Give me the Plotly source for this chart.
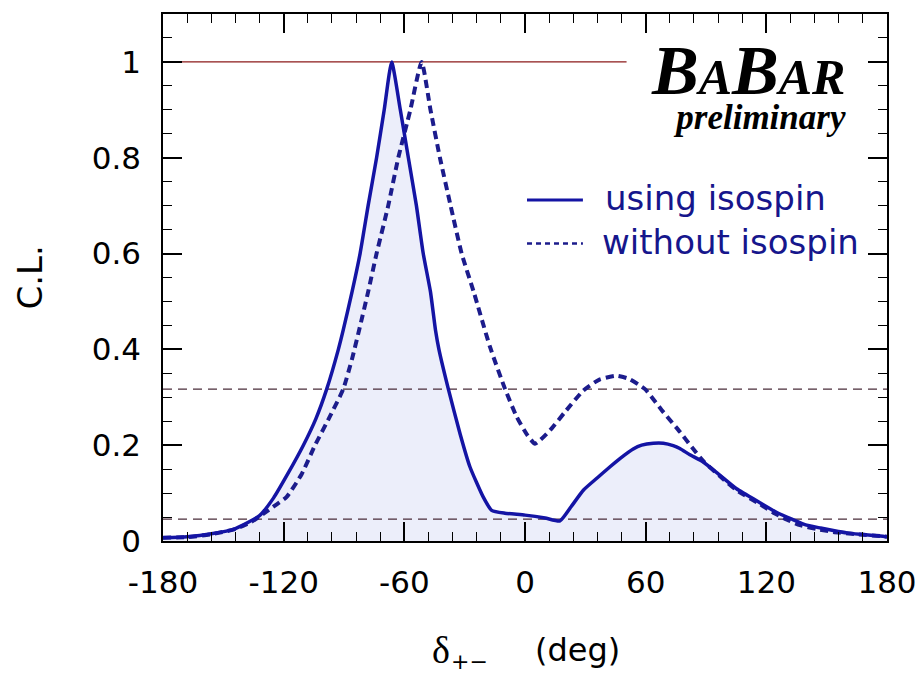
import plotly.graph_objects as go

# Confidence level vs strong phase delta_{+-}, with and without isospin
x_iso = [-180, -168, -156, -144, -132, -125, -118, -110.2, -104, -98.6, -92.8, -90.4, -86, -82, -78,
         -73.8, -70, -66.3, -62, -58, -54, -50.6, -47, -44.5, -42.8, -38.1, -32.3, -27.4, -20.8,
         -16.6, -10, 0, 10, 17.4, 23, 29, 36, 42.3, 47.2, 53.8, 58, 63.8, 68.8, 73.7, 77, 82, 88.6,
         97, 105.2, 116.8, 125, 133, 140, 147, 153.3, 160, 166.6, 172, 178, 180]
cl_iso = [0.007, 0.009, 0.015, 0.026, 0.053, 0.09, 0.14, 0.2, 0.255, 0.317, 0.4, 0.44, 0.52, 0.6, 0.7,
          0.8, 0.9, 1.0, 0.9, 0.8, 0.7, 0.6, 0.52, 0.44, 0.4, 0.317, 0.224, 0.155, 0.092,
          0.064, 0.058, 0.054, 0.048, 0.042, 0.072, 0.106, 0.132, 0.155, 0.172, 0.192, 0.2, 0.204, 0.204,
          0.199, 0.193, 0.18, 0.165, 0.137, 0.109, 0.08, 0.06, 0.045, 0.033, 0.027, 0.022, 0.017, 0.014,
          0.012, 0.01, 0.009]

x_noiso = [-180, -168, -156, -144, -136, -130, -124, -118.5, -111, -104.4, -97, -90.4, -86, -82.5, -78,
           -73.8, -68, -63, -57, -51.4, -47, -42.3, -37, -31.5, -25.5, -17.4, -9.9, -4.1, 1, 5,
           12.4, 20, 29, 37, 45.6, 52, 59.7, 64, 68.8, 77, 82.9, 88.6, 97, 105.2, 116.8, 123.5,
           130, 136.7, 145, 153.3, 165, 178, 180]
cl_noiso = [0.007, 0.008, 0.014, 0.025, 0.04, 0.057, 0.075, 0.092, 0.14, 0.2, 0.26, 0.317, 0.38, 0.44, 0.52,
            0.6, 0.7, 0.8, 0.9, 1.0, 0.9, 0.8, 0.7, 0.6, 0.52, 0.405, 0.317, 0.259, 0.222, 0.203,
            0.231, 0.27, 0.314, 0.337, 0.345, 0.338, 0.317, 0.295, 0.269, 0.228, 0.196, 0.167, 0.135,
            0.106, 0.077, 0.059, 0.045, 0.033, 0.025, 0.019, 0.014, 0.01, 0.009]

# reference levels: 1, 1 sigma (0.317) and 2 sigma (0.0455)
level_one = 1.0
level_one_end = 50.5
level_1sigma = 0.317
level_2sigma = 0.0455

x_ticks = [-180, -120, -60, 0, 60, 120, 180]
y_ticks = [0, 0.2, 0.4, 0.6, 0.8, 1.0]
y_ticktext = ["0", "0.2", "0.4", "0.6", "0.8", "1"]

NAVY = "#1414a4"
NAVY_D = "#1c1c8c"
FILL = "#eceefa"
REF_RED = "#8b1a1a"
REF_DASH = "#4a2c3a"
TICK_FONT = dict(family="DejaVu Sans", size=31, color="black")
SMOOTH = 0.5

fig = go.Figure()

# shaded area under the isospin curve
fig.add_trace(go.Scatter(x=x_iso, y=cl_iso, mode="lines",
                         line=dict(width=0, color=FILL, shape="spline", smoothing=SMOOTH),
                         fill="tozeroy", fillcolor=FILL, hoverinfo="skip", showlegend=False))

# horizontal reference lines
fig.add_trace(go.Scatter(x=[-180, level_one_end], y=[level_one, level_one], mode="lines",
                         line=dict(color=REF_RED, width=1.2), showlegend=False))
for lvl in (level_1sigma, level_2sigma):
    fig.add_trace(go.Scatter(x=[-180, 180], y=[lvl, lvl], mode="lines",
                             line=dict(color=REF_DASH, width=1.3, dash="9px,6px"), showlegend=False))

# curves
fig.add_trace(go.Scatter(x=x_noiso, y=cl_noiso, mode="lines", name="without isospin",
                         line=dict(color=NAVY_D, width=4, dash="8px,5px", shape="spline", smoothing=SMOOTH),
                         showlegend=False))
fig.add_trace(go.Scatter(x=x_iso, y=cl_iso, mode="lines", name="using isospin",
                         line=dict(color=NAVY, width=3.5, shape="spline", smoothing=SMOOTH),
                         showlegend=False))

axis_common = dict(showgrid=False, zeroline=False, showline=True, linecolor="black", linewidth=1.5,
                   mirror="ticks", ticks="inside", tickcolor="black", tickwidth=1.5, ticklen=19,
                   tickfont=TICK_FONT, automargin=False, ticklabeloverflow="allow")

fig.update_xaxes(range=[-180, 180], tickvals=x_ticks, ticktext=[str(v) for v in x_ticks],
                 minor=dict(dtick=12, tick0=-180, ticks="inside", ticklen=9, tickcolor="black", tickwidth=1.3),
                 ticklabelstandoff=13, **axis_common)
fig.update_yaxes(range=[0, 1.1], tickvals=y_ticks, ticktext=y_ticktext,
                 minor=dict(dtick=0.05, tick0=0, ticks="inside", ticklen=9, tickcolor="black", tickwidth=1.3),
                 ticklabelstandoff=14, **axis_common)

# legend drawn inside the frame
fig.add_shape(type="line", x0=1.0, x1=28.8, y0=0.712, y1=0.712, xref="x", yref="y",
              line=dict(color=NAVY, width=3))
fig.add_shape(type="line", x0=1.0, x1=28.8, y0=0.621, y1=0.621, xref="x", yref="y",
              line=dict(color=NAVY_D, width=2.5, dash="5px,4px"))
legend_font = dict(family="DejaVu Sans", size=34, color="#16168c")
fig.add_annotation(x=38.8, y=0.716, xref="x", yref="y", text="using isospin", showarrow=False,
                   xanchor="left", yanchor="middle", font=legend_font)
fig.add_annotation(x=37.5, y=0.625, xref="x", yref="y", text="without isospin", showarrow=False,
                   xanchor="left", yanchor="middle", font=legend_font)

# experiment label (two lines in one block)
babar = ("<b><i><span style='font-size:70px'>B</span><span style='font-size:50px'>A</span>"
         "<span style='font-size:70px'>B</span><span style='font-size:50px'>AR</span></i></b>"
         "<br><b><i><span style='font-size:35px'>preliminary</span></i></b>")
fig.add_annotation(x=160.5, y=0.952, xref="x", yref="y", text=babar, align="right",
                   showarrow=False, xanchor="right", yanchor="middle",
                   font=dict(family="Liberation Serif", size=27, color="black"))

# axis titles
fig.add_annotation(x=-0.185, y=0.5, xref="paper", yref="paper", text="C.L.", textangle=-90,
                   showarrow=False, xanchor="center", yanchor="middle",
                   font=dict(family="DejaVu Sans", size=34, color="black"))
fig.add_annotation(x=(441 - 163) / 724, y=(540.7 - 650) / 526.7, xref="paper", yref="paper",
                   text="δ", showarrow=False, xanchor="center", yanchor="middle",
                   font=dict(family="Liberation Serif", size=38, color="black"))
fig.add_annotation(x=(469 - 163) / 724, y=(540.7 - 661) / 526.7, xref="paper", yref="paper",
                   text="+−", showarrow=False, xanchor="center", yanchor="middle",
                   font=dict(family="DejaVu Sans", size=22, color="black"))
fig.add_annotation(x=(577 - 163) / 724, y=(540.7 - 650) / 526.7, xref="paper", yref="paper",
                   text="(deg)", showarrow=False, xanchor="center", yanchor="middle",
                   font=dict(family="DejaVu Sans", size=32, color="black"))

fig.update_layout(width=915, height=675, margin=dict(l=163, r=28, t=14, b=134),
                  paper_bgcolor="white", plot_bgcolor="white")

fig.write_html("out.html")
